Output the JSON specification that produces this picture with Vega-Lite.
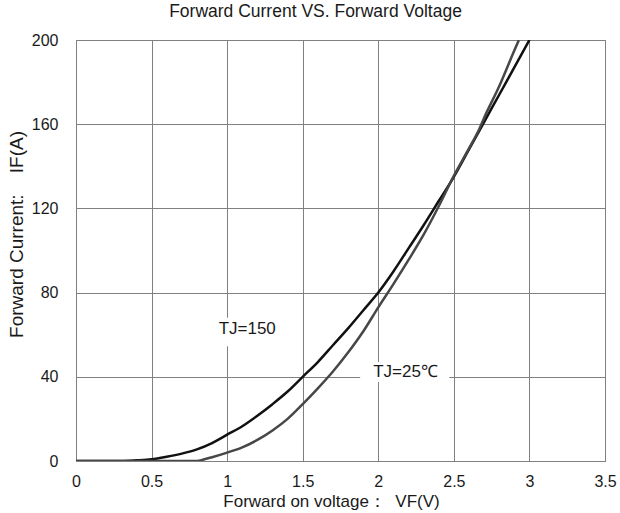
{
  "$schema": "https://vega.github.io/schema/vega-lite/v6.json",
  "width": 529,
  "height": 421,
  "autosize": {"type": "none"},
  "padding": {"left": 76, "top": 40, "right": 15, "bottom": 52},
  "background": "white",
  "config": {
    "font": "Liberation Sans",
    "view": {"stroke": "#808080", "strokeWidth": 1},
    "axis": {
      "grid": true,
      "gridColor": "#808080",
      "gridWidth": 1,
      "gridOpacity": 1,
      "domain": false,
      "ticks": false,
      "labelFont": "Liberation Sans",
      "labelFontSize": 16,
      "labelColor": "#1a1a1a",
      "titleFont": "Liberation Sans",
      "titleFontSize": 17,
      "titleFontWeight": "normal",
      "titleColor": "#1a1a1a"
    }
  },
  "title": {
    "text": "Forward Current VS. Forward Voltage",
    "fontSize": 17.5,
    "fontWeight": "normal",
    "font": "Liberation Sans",
    "color": "#1a1a1a",
    "offset": 12,
    "anchor": "middle",
    "dx": -25
  },
  "datasets": {
    "curves": [
      {"v": 0, "i": 0, "s": "150"},
      {"v": 0.3, "i": 0, "s": "150"},
      {"v": 0.4, "i": 0.3, "s": "150"},
      {"v": 0.5, "i": 0.8, "s": "150"},
      {"v": 0.6, "i": 2, "s": "150"},
      {"v": 0.7, "i": 3.5, "s": "150"},
      {"v": 0.8, "i": 5.5, "s": "150"},
      {"v": 0.9, "i": 8.5, "s": "150"},
      {"v": 1.0, "i": 12.5, "s": "150"},
      {"v": 1.1, "i": 16.5, "s": "150"},
      {"v": 1.2, "i": 21.5, "s": "150"},
      {"v": 1.3, "i": 27, "s": "150"},
      {"v": 1.4, "i": 33, "s": "150"},
      {"v": 1.5, "i": 40, "s": "150"},
      {"v": 1.6, "i": 47, "s": "150"},
      {"v": 1.7, "i": 55, "s": "150"},
      {"v": 1.8, "i": 63, "s": "150"},
      {"v": 1.9, "i": 71.5, "s": "150"},
      {"v": 2.0, "i": 80, "s": "150"},
      {"v": 2.1, "i": 90, "s": "150"},
      {"v": 2.2, "i": 101, "s": "150"},
      {"v": 2.3, "i": 112, "s": "150"},
      {"v": 2.4, "i": 123.5, "s": "150"},
      {"v": 2.5, "i": 135, "s": "150"},
      {"v": 2.6, "i": 148, "s": "150"},
      {"v": 2.7, "i": 161, "s": "150"},
      {"v": 2.8, "i": 174, "s": "150"},
      {"v": 2.9, "i": 187, "s": "150"},
      {"v": 3.0, "i": 200, "s": "150"},
      {"v": 0, "i": 0, "s": "25"},
      {"v": 0.8, "i": 0, "s": "25"},
      {"v": 0.85, "i": 0.8, "s": "25"},
      {"v": 0.9, "i": 1.8, "s": "25"},
      {"v": 1.0, "i": 4, "s": "25"},
      {"v": 1.1, "i": 6.5, "s": "25"},
      {"v": 1.2, "i": 10, "s": "25"},
      {"v": 1.3, "i": 14.5, "s": "25"},
      {"v": 1.4, "i": 20, "s": "25"},
      {"v": 1.5, "i": 27, "s": "25"},
      {"v": 1.6, "i": 34.5, "s": "25"},
      {"v": 1.7, "i": 42.5, "s": "25"},
      {"v": 1.8, "i": 51.5, "s": "25"},
      {"v": 1.9, "i": 61.5, "s": "25"},
      {"v": 2.0, "i": 73, "s": "25"},
      {"v": 2.1, "i": 84, "s": "25"},
      {"v": 2.2, "i": 95.5, "s": "25"},
      {"v": 2.3, "i": 107.5, "s": "25"},
      {"v": 2.4, "i": 121, "s": "25"},
      {"v": 2.5, "i": 135.5, "s": "25"},
      {"v": 2.6, "i": 148.5, "s": "25"},
      {"v": 2.67, "i": 158, "s": "25"},
      {"v": 2.7, "i": 163, "s": "25"},
      {"v": 2.8, "i": 178, "s": "25"},
      {"v": 2.9, "i": 195, "s": "25"},
      {"v": 2.93, "i": 200, "s": "25"}
    ],
    "labels": [
      {"v": 1.133, "i": 62.5, "t": "TJ=150", "v1": 0.9, "v2": 1.37, "i1": 54.5, "i2": 68},
      {"v": 2.18, "i": 42.3, "t": "TJ=25℃", "v1": 1.88, "v2": 2.47, "i1": 37.5, "i2": 47}
    ]
  },
  "layer": [
    {
      "data": {"name": "labels"},
      "mark": {"type": "rect", "fill": "white", "stroke": null},
      "encoding": {
        "x": {"field": "v1", "type": "quantitative", "scale": {"domain": [0, 3.5], "nice": false}},
        "x2": {"field": "v2"},
        "y": {"field": "i1", "type": "quantitative", "scale": {"domain": [0, 200], "nice": false}},
        "y2": {"field": "i2"}
      }
    },
    {
      "data": {"name": "curves"},
      "mark": {"type": "line", "strokeWidth": 2.5, "clip": true, "interpolate": "monotone"},
      "encoding": {
        "x": {
          "field": "v", "type": "quantitative",
          "scale": {"domain": [0, 3.5], "nice": false},
          "axis": {
            "values": [0, 0.5, 1, 1.5, 2, 2.5, 3, 3.5],
            "format": "~g",
            "labelPadding": 12,
            "labelFlush": false,
            "labelOverlap": false,
            "title": "Forward on voltage：\u00a0\u00a0VF(V)",
            "titleX": 255,
            "titleY": 40,
            "titleAlign": "center",
            "titleBaseline": "middle"
          }
        },
        "y": {
          "field": "i", "type": "quantitative",
          "scale": {"domain": [0, 200], "nice": false},
          "axis": {
            "values": [0, 40, 80, 120, 160, 200],
            "labelPadding": 18,
            "labelFlush": false,
            "labelOverlap": false,
            "title": "Forward Current:\u00a0\u00a0\u00a0\u00a0IF(A)",
            "titleFontSize": 19,
            "titleX": -60,
            "titleY": 194,
            "titleAlign": "center",
            "titleBaseline": "middle",
            "titleAngle": -90
          }
        },
        "color": {
          "field": "s", "type": "nominal",
          "scale": {"domain": ["150", "25"], "range": ["#111111", "#474747"]},
          "legend": null
        },
        "detail": {"field": "s"}
      }
    },
    {
      "data": {"name": "labels"},
      "mark": {"type": "text", "fontSize": 17, "font": "Liberation Sans", "color": "#1a1a1a", "align": "center", "baseline": "middle"},
      "encoding": {
        "x": {"field": "v", "type": "quantitative"},
        "y": {"field": "i", "type": "quantitative"},
        "text": {"field": "t"}
      }
    }
  ]
}
